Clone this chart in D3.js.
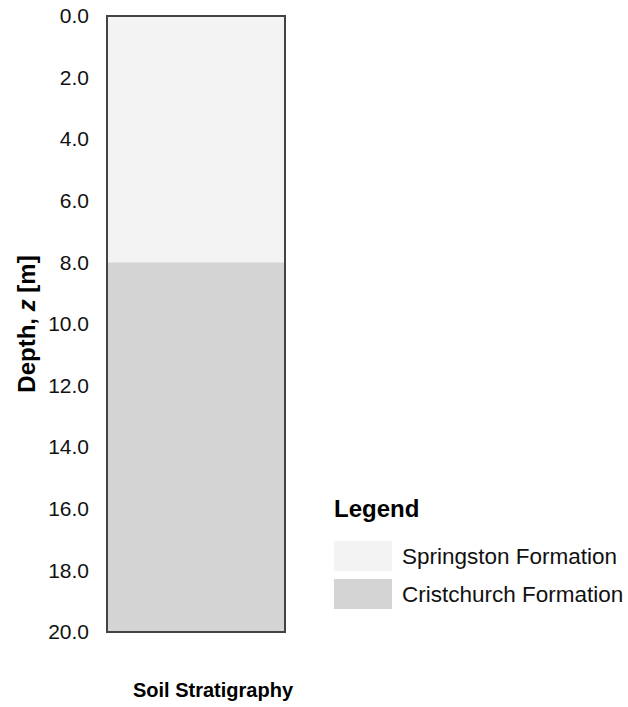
<!DOCTYPE html>
<html>
<head>
<meta charset="utf-8">
<script src="https://cdn.jsdelivr.net/npm/d3@7"></script>
<style>
  html, body { margin: 0; padding: 0; background: #fff; }
  svg { display: block; font-family: "Liberation Sans", Arial, sans-serif; }
</style>
</head>
<body>
<svg id="chart" width="628" height="707"></svg>
<script>
// Soil layers: name, top and bottom depth (m)
const layerNames = ["Springston Formation", "Cristchurch Formation"];
const layerTops = [0, 8];
const layerBottoms = [8, 20];
const layerColors = ["#f3f3f3", "#d4d4d4"];
const depthTicks = [0, 2, 4, 6, 8, 10, 12, 14, 16, 18, 20];

const svg = d3.select("#chart");
const colX0 = 107, colX1 = 285, plotTop = 16, plotBottom = 632;

const y = d3.scaleLinear().domain([0, 20]).range([plotTop, plotBottom]);

// Layer fills
const layers = layerNames.map((n, i) => ({ name: n, top: layerTops[i], bottom: layerBottoms[i], color: layerColors[i] }));
svg.append("g").selectAll("rect").data(layers).join("rect")
  .attr("x", colX0).attr("width", colX1 - colX0)
  .attr("y", d => y(d.top)).attr("height", d => y(d.bottom) - y(d.top))
  .attr("fill", d => d.color);

// Column border
svg.append("rect")
  .attr("x", colX0).attr("y", y(0))
  .attr("width", colX1 - colX0).attr("height", y(20) - y(0))
  .attr("fill", "none").attr("stroke", "#444").attr("stroke-width", 2);

// Depth axis (labels only)
const axis = svg.append("g").attr("transform", `translate(${colX0 - 18},0)`)
  .call(d3.axisLeft(y).tickValues(depthTicks).tickFormat(d3.format(".1f")).tickSize(0).tickPadding(0));
axis.select(".domain").remove();
axis.attr("font-size", 21).attr("font-family", "'Liberation Sans', Arial, sans-serif");
axis.selectAll("text").attr("fill", "#111");

// Axis title
const yt = svg.append("text")
  .attr("transform", `translate(35,${(plotTop + plotBottom) / 2}) rotate(-90)`)
  .attr("text-anchor", "middle").attr("font-size", 24).attr("font-weight", "bold").attr("fill", "#000");
yt.append("tspan").text("Depth, ");
yt.append("tspan").attr("font-style", "italic").text("z");
yt.append("tspan").text(" [m]");

// Column title
svg.append("text").attr("x", 213).attr("y", 697)
  .attr("text-anchor", "middle").attr("font-size", 20).attr("font-weight", "bold").attr("fill", "#000")
  .text("Soil Stratigraphy");

// Legend
const lg = svg.append("g");
lg.append("text").attr("x", 334).attr("y", 517).attr("font-size", 24).attr("font-weight", "bold")
  .attr("fill", "#000").text("Legend");
const items = lg.selectAll("g.item").data(layers).join("g").attr("class", "item")
  .attr("transform", (d, i) => `translate(334,${541 + i * 38})`);
items.append("rect").attr("width", 58).attr("height", 30).attr("fill", d => d.color);
items.append("text").attr("x", 68).attr("y", 15).attr("dy", "0.35em")
  .attr("font-size", 22.5).attr("fill", "#111").text(d => d.name);
</script>
</body>
</html>
